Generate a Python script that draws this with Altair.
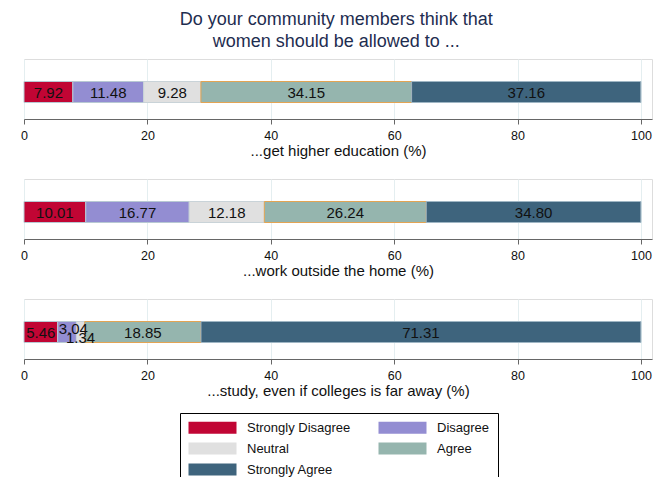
import altair as alt
import pandas as pd

# ---- data ----
questions = [
    "...get higher education (%)",
    "...work outside the home (%)",
    "...study, even if colleges is far away (%)",
]
categories = ["Strongly Disagree", "Disagree", "Neutral", "Agree", "Strongly Agree"]
higher_education = [7.92, 11.48, 9.28, 34.15, 37.16]
work_outside_home = [10.01, 16.77, 12.18, 26.24, 34.80]
study_far_away = [5.46, 3.04, 1.34, 18.85, 71.31]
tick_values = [0, 20, 40, 60, 80, 100]
title_lines = ["Do your community members think that", "women should be allowed to ..."]

# ---- styles ----
fill_colors = ["#c10534", "#938dd2", "#e0e0e0", "#95b5ae", "#3e647d"]
stroke_colors = ["#b8c9d3", "#b8c9d3", "#c9d3d8", "#e3a453", "#9fb6c4"]
FONT = "Liberation Sans"
PANEL_W = 628
PANEL_H = 60

series = [higher_education, work_outside_home, study_far_away]


def panel(question, values):
    df = pd.DataFrame(
        {
            "category": categories,
            "value": values,
            "order": list(range(len(categories))),
            "row": [question] * len(categories),
        }
    )
    base = (
        alt.Chart(df)
        .transform_stack(
            stack="value",
            groupby=["row"],
            as_=["x0", "x1"],
            sort=[alt.SortField("order", order="ascending")],
        )
        .transform_calculate(
            mid="(datum.x0 + datum.x1) / 2",
            label="format(datum.value, '.2f')",
        )
    )
    x_axis = alt.Axis(
        values=tick_values,
        title=question,
        grid=True,
        gridColor="#e4eef0",
        domainColor="#666666",
        tickColor="#666666",
        tickSize=5,
        labelFontSize=12.5,
        labelFont=FONT,
        labelColor="#111111",
        labelPadding=5,
        labelFlush=False,
        titleFontSize=15,
        titleFont=FONT,
        titleFontWeight="normal",
        titleColor="#111111",
        titlePadding=2,
    )
    y_enc = alt.Y("row:N", axis=None)
    bars = base.mark_bar(size=21, yOffset=3, strokeWidth=1).encode(
        x=alt.X("x0:Q", scale=alt.Scale(domain=[0, 101.8], nice=False, zero=False), axis=x_axis),
        x2="x1:Q",
        y=y_enc,
        color=alt.Color(
            "category:N",
            scale=alt.Scale(domain=categories, range=fill_colors),
            legend=alt.Legend(
                title=None,
                orient="none",
                direction="horizontal",
                legendX=156,
                legendY=354,
                columns=2,
                symbolType="M-1,-1H7V1H-1Z",
                symbolSize=144,
                symbolStrokeWidth=0,
                labelOffset=46,
                columnPadding=27,
                rowPadding=7,
                padding=8,
                strokeColor="#000000",
                fillColor="#ffffff",
                labelFontSize=13,
                labelFont=FONT,
                labelColor="#111111",
                labelLimit=200,
            ),
        ),
        stroke=alt.Stroke(
            "category:N",
            scale=alt.Scale(domain=categories, range=stroke_colors),
            legend=None,
        ),
    )
    text_main = (
        base.transform_filter("datum.value >= 4")
        .mark_text(fontSize=15, yOffset=4, font=FONT, color="#111111")
        .encode(x=alt.X("mid:Q"), y=y_enc, text="label:N")
    )
    text_small_a = (
        base.transform_filter("datum.value < 4 && datum.order == 1")
        .mark_text(fontSize=15, yOffset=0, align="left", dx=1, font=FONT, color="#111111")
        .encode(x=alt.X("x0:Q"), y=y_enc, text="label:N")
    )
    text_small_b = (
        base.transform_filter("datum.value < 4 && datum.order == 2")
        .mark_text(fontSize=15, yOffset=9, font=FONT, color="#111111")
        .encode(x=alt.X("mid:Q"), y=y_enc, text="label:N")
    )
    return alt.layer(bars, text_main, text_small_a, text_small_b).properties(
        width=PANEL_W, height=PANEL_H
    )


panels = [panel(q, v) for q, v in zip(questions, series)]

chart = (
    alt.vconcat(*panels, spacing=19)
    .resolve_scale(color="shared", stroke="shared")
    .properties(
        title=alt.TitleParams(
            text=title_lines,
            fontSize=18,
            font=FONT,
            fontWeight="normal",
            color="#1e2d50",
            anchor="middle",
            lineHeight=22,
            offset=8,
        ),
        padding={"left": 12, "top": 2, "right": 5, "bottom": 5},
    )
    .configure_view(stroke=None)
    .configure(font=FONT)
)

chart.save("out.html", embed_options={"renderer": "svg", "actions": False})
